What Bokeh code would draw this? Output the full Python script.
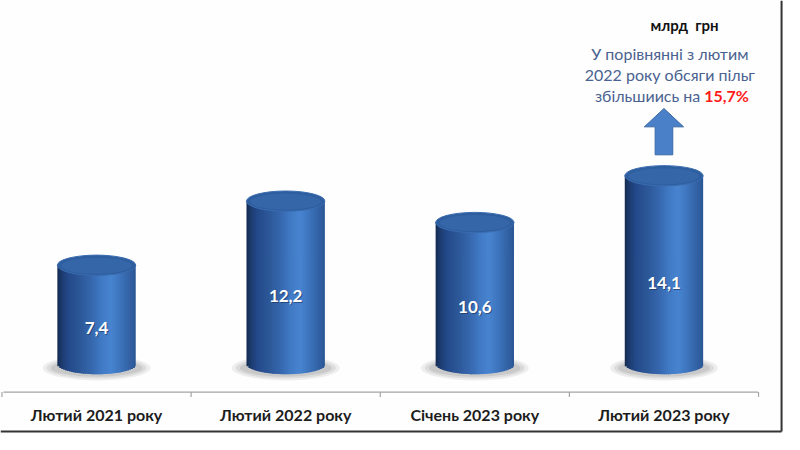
import numpy as np
from bokeh.plotting import figure
from bokeh.models import Range1d, ColumnDataSource
from bokeh.embed import file_html
from bokeh.resources import INLINE
from bokeh.core.properties import value

# ---------------- data ----------------
categories = ["Лютий 2021 року", "Лютий 2022 року", "Січень 2023 року", "Лютий 2023 року"]
values = [7.4, 12.2, 10.6, 14.1]
value_labels = ["7,4", "12,2", "10,6", "14,1"]
unit_label = "млрд\u00a0\u00a0грн"
note_lines = ["У порівнянні з лютим", "2022 року обсяги пільг", "збільшиись на"]
note_highlight = "15,7%"

# ---------------- layout (reference-pixel geometry) ----------------
W, H = 784, 434
REF_W, REF_H = 800, 450
CAT_PX0, CAT_STEP = 98, 193        # centre of first category, category step
BASE_PX, PX_PER_UNIT = 377, 13.85  # baseline and vertical scale


def xd(px):
    return (px - CAT_PX0) / CAT_STEP


def yd(py):
    return (BASE_PX - py) / PX_PER_UNIT


def wd(px):
    return px / CAT_STEP


def hd(px):
    return px / PX_PER_UNIT


FONT = value("Lato")
BG = "#fdfefd"

p = figure(width=W, height=H,
           x_range=Range1d(xd(0), xd(REF_W)), y_range=Range1d(yd(REF_H), yd(0)),
           output_backend="svg", toolbar_location=None,
           x_axis_location=None, y_axis_location=None, min_border=0)
p.grid.visible = False
p.outline_line_color = None
p.background_fill_color = BG
p.border_fill_color = BG

n = len(values)
xs = list(range(n))

# ---------------- shadows ----------------
for wpx, hpx, col in [(110, 26, "#eeeeee"), (102, 22, "#dcdcdc"), (94, 18, "#c9c9c9")]:
    p.ellipse(x=xs, y=[yd(381)] * n, width=wd(wpx), height=hd(hpx),
              fill_color=col, line_color=None)

# ---------------- cylinders ----------------
stops_t = [0.0, 0.05, 0.14, 0.28, 0.42, 0.56, 0.68, 0.78, 0.9, 1.0]
stops_c = ["#142a4e", "#1b3a6c", "#24498a", "#2c5797", "#3565ab", "#4079c4",
           "#4884d0", "#3f77c0", "#3465a9", "#2b5694"]


def hex2rgb(h):
    return np.array([int(h[i:i + 2], 16) for i in (1, 3, 5)], dtype=float)


stops_rgb = np.array([hex2rgb(c) for c in stops_c])


def shade(t):
    rgb = [np.interp(t, stops_t, stops_rgb[:, k]) for k in range(3)]
    return "#%02x%02x%02x" % tuple(int(round(v)) for v in rgb)


CYL_W = wd(80)
RY = hd(10.5)
NS = 40
left, right, bottom, top, cols = [], [], [], [], []
for i, v in enumerate(values):
    for k in range(NS):
        t0, t1 = k / NS, (k + 1) / NS
        tc = (t0 + t1) / 2
        u = 2 * tc - 1
        left.append(i - CYL_W / 2 + t0 * CYL_W)
        right.append(i - CYL_W / 2 + min(1.0, t1 + 0.6 / NS) * CYL_W)
        bottom.append(-RY * np.sqrt(max(0.0, 1 - u * u)))
        top.append(v)
        cols.append(shade(tc))
src = ColumnDataSource(dict(left=left, right=right, bottom=bottom, top=top, c=cols))
p.quad(left="left", right="right", bottom="bottom", top="top", source=src,
       fill_color="c", line_color=None)

# top caps
p.ellipse(x=xs, y=values, width=CYL_W, height=2 * RY,
          fill_color="#2f5e9f", line_color="#3a6cb0", line_width=1)
p.ellipse(x=xs, y=[v - hd(0.5) for v in values], width=CYL_W * 0.9, height=2 * RY * 0.8,
          fill_color="#3768aa", line_color=None, fill_alpha=0.8)

# value labels
lab_y = [v / 2 - hd(14) for v in values]
p.text(x=[x + wd(1) for x in xs], y=[y - hd(1) for y in lab_y], text=value_labels,
       text_font=FONT, text_font_style="bold", text_font_size="17px",
       text_color="#1b2f55", text_alpha=0.6, text_align="center", text_baseline="middle")
p.text(x=xs, y=lab_y, text=value_labels,
       text_font=FONT, text_font_style="bold", text_font_size="17px",
       text_color="white", text_align="center", text_baseline="middle")

# ---------------- category axis ----------------
p.segment(x0=[xd(3)], y0=[yd(406)], x1=[xd(773)], y1=[yd(406)],
          line_color="#a4a4a4", line_width=1.2)
bounds = [i - 0.5 for i in range(n + 1)]
p.segment(x0=bounds, y0=[yd(406)] * (n + 1), x1=bounds, y1=[yd(411)] * (n + 1),
          line_color="#a4a4a4", line_width=1.2)
p.text(x=xs, y=[yd(429)] * n, text=categories,
       text_font=FONT, text_font_style="bold", text_font_size="16px",
       text_color="#1c1c1c", text_align="center", text_baseline="middle")

# ---------------- unit + note ----------------
p.text(x=[xd(698)], y=[yd(25)], text=[unit_label],
       text_font=FONT, text_font_style="bold", text_font_size="15px",
       text_color="#111111", text_align="center", text_baseline="middle")
p.text(x=[xd(683), xd(683)], y=[yd(55), yd(77)], text=note_lines[:2],
       text_font=FONT, text_font_size="16px", text_color="#4a6290",
       text_align="center", text_baseline="middle")
p.text(x=[xd(714)], y=[yd(98)], text=[note_lines[2]],
       text_font=FONT, text_font_size="16px", text_color="#4a6290",
       text_align="right", text_baseline="middle")
p.text(x=[xd(718)], y=[yd(98)], text=[note_highlight],
       text_font=FONT, text_font_style="bold", text_font_size="16px",
       text_color="#ff1a1a", text_align="left", text_baseline="middle")

# arrow
ax_px = [677, 697, 686, 686, 668, 668, 657]
ay_px = [112, 131, 131, 160, 160, 131, 131]
p.patch(x=[xd(a) for a in ax_px], y=[yd(b) for b in ay_px],
        fill_color="#4a80c8", line_color="#3b6aa8", line_width=1)

# image frame (right and bottom edges)
p.segment(x0=[xd(797), xd(0)], y0=[yd(0), yd(447)], x1=[xd(797), xd(797)], y1=[yd(447), yd(447)],
          line_color="#333333", line_width=2)

open("out.html", "w").write(file_html(p, INLINE))
